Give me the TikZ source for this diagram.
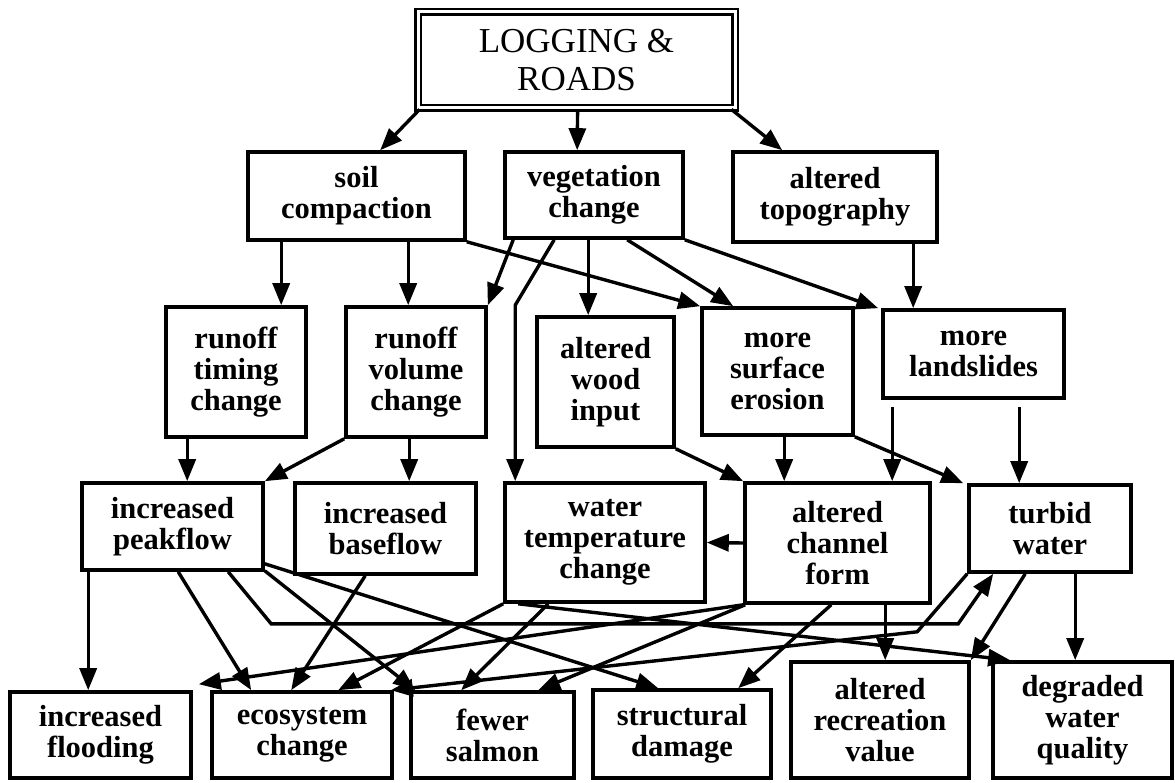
\documentclass[tikz,border=0pt]{standalone}
\usepackage{fontspec}
\setmainfont{Liberation Serif}
\usetikzlibrary{arrows.meta}

\newcommand{\boxfont}{\bfseries\fontsize{30.5}{31}\selectfont}
\newcommand{\headfont}{\mdseries\fontsize{35}{38}\selectfont}

\tikzset{
  box/.style={draw, line width=3.6pt, align=center, inner sep=0pt, font=\boxfont},
  headbox/.style={draw, double, double distance=3pt, line width=2.8pt, align=center, inner sep=0pt, font=\headfont},
  arr/.style={-{Triangle[length=22pt,width=17pt]}, line width=3.4pt},
}

\begin{document}
\begin{tikzpicture}[x=1pt, y=-1pt, line join=miter]
\useasboundingbox (0,0) rectangle (1175,783);

% cause
\node[headbox, minimum width=317, minimum height=96] (log) at (576.5,60) {LOGGING \&\\ROADS};

% direct effects
\node[box, minimum width=217, minimum height=88] (soil) at (356.5,196) {soil\\compaction};
\node[box, minimum width=178, minimum height=86] (veg) at (594,195) {vegetation\\change};
\node[box, minimum width=204, minimum height=90] (topo) at (835,197) {altered\\topography};

% hillslope responses
\node[box, minimum width=140, minimum height=130] (timing) at (236,372) {runoff\\timing\\change};
\node[box, minimum width=140, minimum height=130] (volume) at (416,372) {runoff\\volume\\change};
\node[box, minimum width=137, minimum height=130] (wood) at (605.5,382) {altered\\wood\\input};
\node[box, minimum width=151, minimum height=127] (erosion) at (777.5,371.5) {more\\surface\\erosion};
\node[box, minimum width=181, minimum height=88] (slides) at (973.5,354) {more\\landslides};

% channel responses
\node[box, minimum width=181, minimum height=87] (peak) at (172.5,526.5) {increased\\peakflow};
\node[box, minimum width=181, minimum height=91] (base) at (385.5,528.5) {increased\\baseflow};
\node[box, minimum width=200, minimum height=119] (temp) at (605,542.5) {water\\temperature\\change};
\node[box, minimum width=185, minimum height=120] (channel) at (837.5,543) {altered\\channel\\form};
\node[box, minimum width=162, minimum height=87] (turbid) at (1050,528.5) {turbid\\water};

% impacts
\node[box, minimum width=181, minimum height=86] (flood) at (100.5,735) {increased\\flooding};
\node[box, minimum width=180, minimum height=86] (eco) at (302,735) {ecosystem\\change};
\node[box, minimum width=163, minimum height=86] (salmon) at (492.5,735) {fewer\\salmon};
\node[box, minimum width=178, minimum height=88] (struct) at (682,734) {structural\\damage};
\node[box, minimum width=178, minimum height=116] (recre) at (880,720) {altered\\recreation\\value};
\node[box, minimum width=179, minimum height=116] (degr) at (1082.5,720) {degraded\\water\\quality};

% logging and roads
\draw[arr] ([xshift=3pt]log.south west) -- ([xshift=134pt]soil.north west);
\draw[arr] ([xshift=161pt]log.south west) -- ([xshift=74pt]veg.north west);
\draw[arr] ([xshift=-5pt]log.south east) -- ([xshift=51pt]topo.north west);

% direct effects to hillslope responses
\draw[arr] ([xshift=35pt]soil.south west) -- ([xshift=117pt]timing.north west);
\draw[arr] ([xshift=162pt]soil.south west) -- ([xshift=64pt]volume.north west);
\draw[arr] (soil.south east) -- (erosion.north west);
\draw[arr] ([xshift=10pt]veg.south west) -- (volume.north east);
\draw[arr] ([xshift=51pt]veg.south west) -- ([xshift=12pt,yshift=176pt]temp.north west) -- ([xshift=12pt]temp.north west);
\draw[arr] ([xshift=85pt]veg.south west) -- ([xshift=53pt]wood.north west);
\draw[arr] ([xshift=124pt]veg.south west) -- ([xshift=33pt]erosion.north west);
\draw[arr] (veg.south east) -- ([xshift=-3pt]slides.north west);
\draw[arr] ([xshift=182pt]topo.south west) -- ([xshift=32pt]slides.north west);

% hillslope responses to channel responses
\draw[arr] ([xshift=23pt]timing.south west) -- ([xshift=107pt]peak.north west);
\draw[arr] (volume.south west) -- (peak.north east);
\draw[arr] ([xshift=65pt]volume.south west) -- ([xshift=116pt]base.north west);
\draw[arr] (wood.south east) -- (channel.north west);
\draw[arr] ([xshift=84pt]erosion.south west) -- ([xshift=41pt]channel.north west);
\draw[arr] (erosion.south east) -- ([xshift=-4pt]turbid.north west);
\draw[arr] ([xshift=11pt,yshift=-7pt]slides.south west) -- ([xshift=149pt]channel.north west);
\draw[arr] ([xshift=138pt,yshift=-7pt]slides.south west) -- ([xshift=52pt]turbid.north west);
\draw[arr] (channel.west) -- (temp.east);

% channel responses to impacts
\draw[arr] ([xshift=8pt]peak.south west) -- ([xshift=80pt]flood.north west);
\draw[arr] ([xshift=98pt]peak.south west) -- ([xshift=41pt]eco.north west);
\draw[arr] ([xshift=148pt]peak.south west) -- ++(43,52) -- ++(687,0) -- ([xshift=26pt]turbid.south west);
\draw[arr] ([yshift=1pt]peak.south east) -- ([xshift=6pt]salmon.north west);
\draw[arr] ([yshift=8pt]peak.south east) -- ([xshift=67pt]struct.north west);
\draw[arr] ([xshift=72pt]base.south west) -- ([xshift=81pt]eco.north west);
\draw[arr] (temp.south west) -- ([xshift=128pt]eco.north west);
\draw[arr] ([xshift=45pt]temp.south west) -- ([xshift=52pt]salmon.north west);
\draw[arr] ([xshift=15pt]temp.south west) -- ([xshift=19pt]degr.north west);
\draw[arr] (channel.south west) -- ([xshift=6pt,yshift=6pt]flood.north east);
\draw[arr] ([xshift=2pt]channel.south west) -- ([xshift=129pt]salmon.north west);
\draw[arr] ([xshift=88pt]channel.south west) -- ([xshift=147pt]struct.north west);
\draw[arr] ([xshift=142pt]channel.south west) -- ([xshift=96pt]recre.north west);
\draw[arr] (turbid.south west) -- ++(-50,58) -- ([xshift=-3pt]eco.north east);
\draw[arr] ([xshift=58pt]turbid.south west) -- (recre.north east);
\draw[arr] ([xshift=108pt]turbid.south west) -- ([xshift=84pt]degr.north west);
\end{tikzpicture}
\end{document}
